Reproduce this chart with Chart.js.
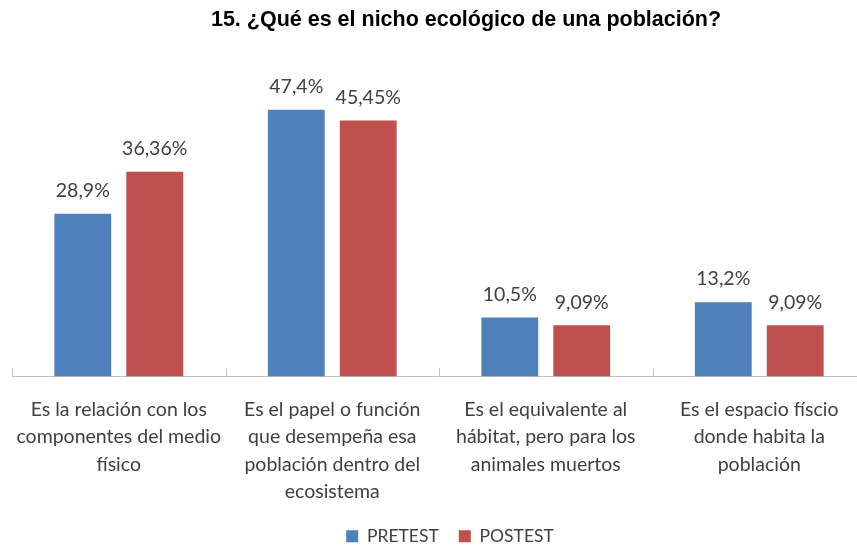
<!DOCTYPE html>
<html>
<head>
<meta charset="utf-8">
<script src="https://cdn.jsdelivr.net/npm/chart.js@4.4.1/dist/chart.umd.min.js"></script>
<style>
  body { margin: 0; background: #fff; overflow: hidden; }
  #wrap { width: 888px; height: 555px; }
</style>
</head>
<body>
<div id="wrap"><canvas id="myChart"></canvas></div>
<script>
'use strict';

let chartTitle = '15. ¿Qué es el nicho ecológico de una población?';
let categories = [
    ['Es la relación con los', 'componentes del medio', 'físico'],
    ['Es el papel o función', 'que desempeña esa', 'población dentro del', 'ecosistema'],
    ['Es el equivalente al', 'hábitat, pero para los', 'animales muertos'],
    ['Es el espacio físcio', 'donde habita la', 'población']
];
let seriesNames = ['PRETEST', 'POSTEST'];
let pretestValues = [28.9, 47.4, 10.5, 13.2];
let postestValues = [36.36, 45.45, 9.09, 9.09];

let labelFont = 'Lato, "Liberation Sans", sans-serif';

// title drawn by hand so it sits where the original one does
let chartHeading = {
    id: 'chartHeading',
    afterDraw(chart) {
        let ctx = chart.ctx;
        ctx.save();
        ctx.font = 'bold 21.5px "Liberation Sans", Arial, sans-serif';
        ctx.fillStyle = '#000';
        ctx.textAlign = 'center';
        ctx.textBaseline = 'middle';
        ctx.fillText(chartTitle, 466, 20);
        ctx.restore();
    }
};

// value labels above each bar, comma decimals like the original
let barLabels = {
    id: 'barLabels',
    afterDatasetsDraw(chart) {
        let ctx = chart.ctx;
        ctx.save();
        ctx.font = '19.5px ' + labelFont;
        ctx.fillStyle = '#404040';
        ctx.textAlign = 'center';
        ctx.textBaseline = 'middle';
        chart.data.datasets.forEach(function (ds, i) {
            chart.getDatasetMeta(i).data.forEach(function (bar, j) {
                let txt = String(ds.data[j]).replace('.', ',') + '%';
                ctx.fillText(txt, bar.x, bar.y - 23);
            });
        });
        ctx.restore();
    }
};

// small upward tick marks between the categories
let categoryTicks = {
    id: 'categoryTicks',
    afterDraw(chart) {
        let x = chart.scales.x;
        let ctx = chart.ctx;
        let step = x.getPixelForValue(1) - x.getPixelForValue(0);
        ctx.save();
        ctx.strokeStyle = '#BFBFBF';
        ctx.lineWidth = 1;
        for (let i = 0; i <= categories.length; i++) {
            let px = Math.round(x.getPixelForValue(i) - step / 2) + 0.5;
            ctx.beginPath();
            ctx.moveTo(px, x.top - 8);
            ctx.lineTo(px, x.top);
            ctx.stroke();
        }
        ctx.restore();
    }
};

let ctx = document.getElementById('myChart').getContext('2d');
let chart = new Chart(ctx, {
    type: 'bar',
    data: {
        labels: categories,
        datasets: [{
            label: seriesNames[0],
            data: pretestValues,
            backgroundColor: '#4F81BD',
            barPercentage: 0.79,
            categoryPercentage: 0.674
        }, {
            label: seriesNames[1],
            data: postestValues,
            backgroundColor: '#C0504D',
            barPercentage: 0.79,
            categoryPercentage: 0.674
        }]
    },
    options: {
        responsive: true,
        maintainAspectRatio: false,
        animation: false,
        layout: { padding: { left: 12, right: 0, top: 95, bottom: 0 } },
        scales: {
            x: {
                grid: { display: false },
                border: { display: true, color: '#BFBFBF', width: 1 },
                ticks: {
                    color: '#404040',
                    font: { family: labelFont, size: 19.5, lineHeight: '27.5px' },
                    padding: 11,
                    maxRotation: 0,
                    autoSkip: false
                },
                afterFit(scale) { scale.height = 131; }
            },
            y: {
                display: false,
                min: 0,
                max: 50
            },
            // empty right axis, only there to keep the legend centred like the original
            y2: {
                position: 'right',
                display: true,
                grid: { display: false },
                border: { display: false },
                ticks: { display: false },
                afterFit(scale) { scale.width = 22; }
            }
        },
        plugins: {
            title: { display: false },
            legend: {
                position: 'bottom',
                labels: {
                    color: '#404040',
                    font: { family: labelFont, size: 17.5 },
                    boxWidth: 12,
                    boxHeight: 12,
                    padding: 20
                }
            },
            tooltip: { enabled: false }
        }
    },
    plugins: [barLabels, categoryTicks, chartHeading]
});
</script>
</body>
</html>
